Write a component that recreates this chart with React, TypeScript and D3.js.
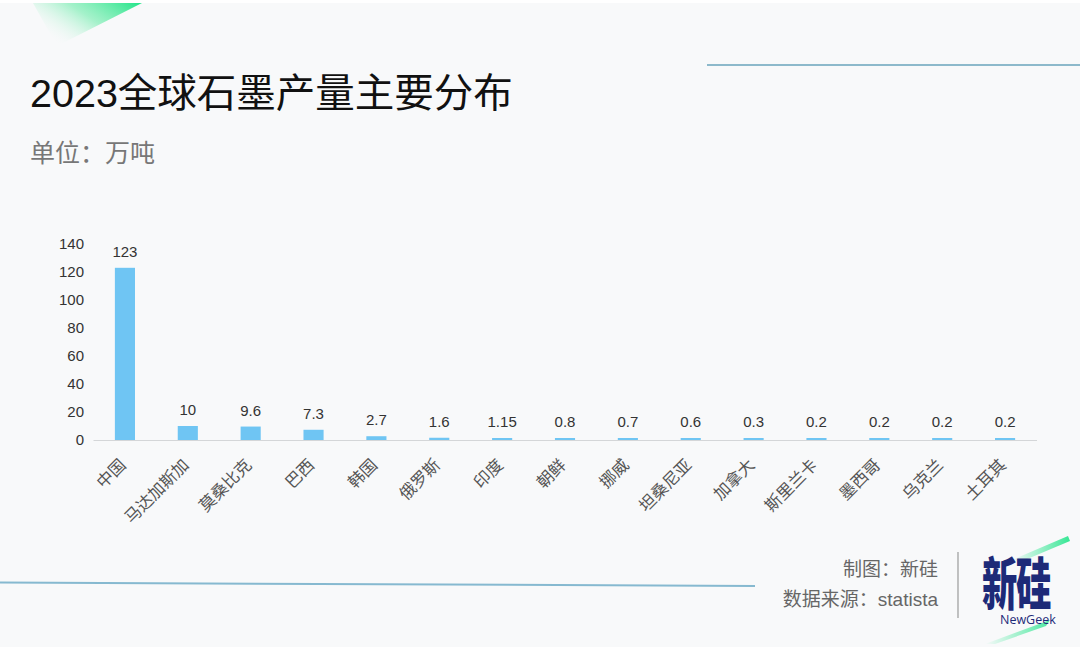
import React from "react";
import * as d3 from "d3";

const categories = ["中国", "马达加斯加", "莫桑比克", "巴西", "韩国", "俄罗斯", "印度", "朝鲜", "挪威", "坦桑尼亚", "加拿大", "斯里兰卡", "墨西哥", "乌克兰", "土耳其"];
const values = [123, 10, 9.6, 7.3, 2.7, 1.6, 1.15, 0.8, 0.7, 0.6, 0.3, 0.2, 0.2, 0.2, 0.2];
const valueLabels = ["123", "10", "9.6", "7.3", "2.7", "1.6", "1.15", "0.8", "0.7", "0.6", "0.3", "0.2", "0.2", "0.2", "0.2"];
const yTicks = [0, 20, 40, 60, 80, 100, 120, 140];

const title = "2023全球石墨产量主要分布";
const unitText = "单位：万吨";
const credit1 = "制图：新硅";
const credit2 = "数据来源：statista";

const W = 1080;
const H = 647;
const FONT = "'Liberation Sans', 'Noto Sans CJK SC', sans-serif";

export default function App() {
  const x = d3.scaleBand<string>().domain(categories).range([93.5, 1036.5]).paddingInner(0.68).paddingOuter(0.34);
  const y = d3.scaleLinear().domain([0, 140]).range([440, 244]);

  return (
    <svg width={W} height={H} style={{ position: "absolute", left: 0, top: 0, display: "block" }} fontFamily={FONT}>
      <defs>
        <linearGradient id="tl" x1="1" y1="0" x2="0" y2="0.6">
          <stop offset="0" stopColor="#1fe487" stopOpacity="1" />
          <stop offset="0.5" stopColor="#6cecaa" stopOpacity="0.6" />
          <stop offset="1" stopColor="#f8f9fa" stopOpacity="0" />
        </linearGradient>
        <linearGradient id="lg1" x1="1" y1="0" x2="0" y2="0">
          <stop offset="0" stopColor="#22e58a" stopOpacity="0.9" />
          <stop offset="1" stopColor="#22e58a" stopOpacity="0" />
        </linearGradient>
        <linearGradient id="lg2" x1="1" y1="0" x2="0" y2="0">
          <stop offset="0" stopColor="#22e58a" stopOpacity="0.8" />
          <stop offset="1" stopColor="#22e58a" stopOpacity="0" />
        </linearGradient>
      </defs>
      <rect x={0} y={0} width={W} height={H} fill="#f8f9fa" />
      <rect x={0} y={0} width={W} height={3} fill="#ffffff" />

      {/* top-left decoration */}
      <polygon points="33,3 142,3 57,46" fill="url(#tl)" />

      {/* title */}
      <text x={30} y={107} fontSize={39.5} fill="#111">{title}</text>
      <text x={30} y={162} fontSize={25} fill="#777">{unitText}</text>

      {/* top right line */}
      <line x1={707} y1={65} x2={1080} y2={65} stroke="#8db9cb" strokeWidth={2} />

      {/* y tick labels */}
      {yTicks.map((t) => (
        <text key={t} x={84} y={y(t)} dy="0.36em" textAnchor="end" fontSize={15} fill="#333">{t}</text>
      ))}

      {/* bars */}
      {categories.map((c, i) => {
        const top = y(values[i]);
        const h = Math.max(y(0) - top, 2);
        return (
          <rect key={c} x={x(c)} y={y(0) - h} width={x.bandwidth()} height={h} fill="#6fc5f3" />
        );
      })}

      {/* axis line */}
      <line x1={93.5} y1={440.5} x2={1037} y2={440.5} stroke="#d4d6d8" strokeWidth={1} />

      {/* value labels */}
      {categories.map((c, i) => {
        const top = Math.min(y(values[i]), y(0) - 2);
        return (
          <text key={c} x={(x(c) as number) + x.bandwidth() / 2} y={top - 11} textAnchor="middle" fontSize={15} fill="#333">{valueLabels[i]}</text>
        );
      })}

      {/* x labels */}
      {categories.map((c) => {
        const cx = (x(c) as number) + x.bandwidth() / 2;
        return (
          <text key={c} transform={`translate(${cx + 2},${466}) rotate(-45)`} textAnchor="end" fontSize={16.5} fill="#555">{c}</text>
        );
      })}

      {/* bottom line */}
      <line x1={0} y1={582.5} x2={755} y2={586} stroke="#86b9d0" strokeWidth={2} />

      {/* credits */}
      <text x={938} y={576} textAnchor="end" fontSize={19} fill="#666">{credit1}</text>
      <text x={938} y={606} textAnchor="end" fontSize={19} fill="#666">{credit2}</text>
      <line x1={958} y1={552} x2={958} y2={618} stroke="#9a9a9a" strokeWidth={1.2} />

      {/* logo */}
      <polygon points="1012,560 1068,536 1070,541 1020,562" fill="url(#lg1)" />
      <polygon points="985,644 1050,620 1046,626 995,644" fill="url(#lg2)" />
      <text transform="translate(982,605) scale(0.62,1)" fontSize={57} fontWeight={900} fill="#1d2a78" fontFamily="'Noto Sans CJK SC', sans-serif" letterSpacing={-2}>新硅</text>
      <text x={1000} y={624} fontSize={12.5} fill="#1d2a78" fontFamily="'Open Sans', 'DejaVu Sans', sans-serif">NewGeek</text>
    </svg>
  );
}
